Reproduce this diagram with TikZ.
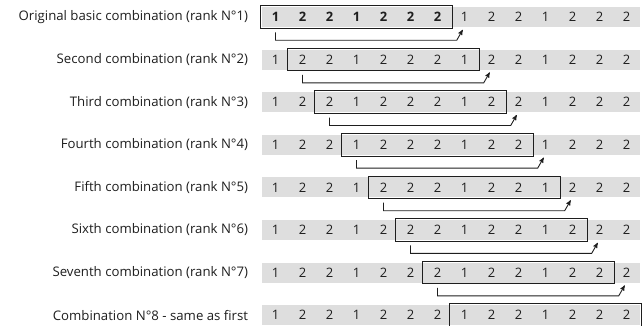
\documentclass[tikz,border=0pt]{standalone}
\usepackage{fontspec}
\setmainfont{Open Sans}
\usetikzlibrary{arrows,positioning}
\definecolor{bandgray}{RGB}{222,222,222}
\definecolor{ink}{RGB}{30,30,30}

\begin{document}
\begin{tikzpicture}[x=1pt, y=-1pt, >=stealth', semithick]
    \tikzstyle{cell}=[fill=bandgray, minimum width=27pt, minimum height=20pt, inner sep=0pt, text=ink, font=\fontsize{13}{15}\selectfont]
    \tikzstyle{lbl}=[text=ink, font=\fontsize{13.2}{15}\selectfont]
    \tikzstyle{frame}=[draw=ink, line width=1.1pt]
    \tikzstyle{link}=[->, draw=ink, line width=0.9pt]
    \useasboundingbox (0,0) rectangle (644,326);
    % the rows of digits, with their titles
    \foreach \r/\txt in {0/Original basic combination (rank N°1),
                         1/Second combination (rank N°2),
                         2/Third combination (rank N°3),
                         3/Fourth combination (rank N°4),
                         4/Fifth combination (rank N°5),
                         5/Sixth combination (rank N°6),
                         6/Seventh combination (rank N°7),
                         7/Combination N°8 - same as first} {
        \foreach \d [count=\k from 0] in {1,2,2,1,2,2,2,1,2,2,1,2,2,2}
            \node[cell] (c\r-\k) at (275.5+27*\k, 17+42.6*\r)
                {\ifnum\r=0 \ifnum\k<7 \bfseries\fi\fi\d};
        \node[lbl, left=10pt of c\r-0] (l\r) {\txt};
    }
    % the window of seven digits
    \foreach \r in {0,...,7} {
        \pgfmathtruncatemacro{\e}{\r+6}
        \draw[frame] ([xshift=-1pt,yshift=1pt]c\r-\r.north west)
            rectangle ([xshift=1pt,yshift=-1pt]c\r-\e.south east);
    }
    % shift by one
    \foreach \r in {0,...,6} {
        \pgfmathtruncatemacro{\n}{\r+7}
        \draw[link] ([yshift=-5pt]c\r-\r.south)
            |- ([xshift=6pt,yshift=-13pt]c\r-\n.south west)
            -- ([xshift=12pt,yshift=-2.5pt]c\r-\n.south west);
    }
\end{tikzpicture}
\end{document}
